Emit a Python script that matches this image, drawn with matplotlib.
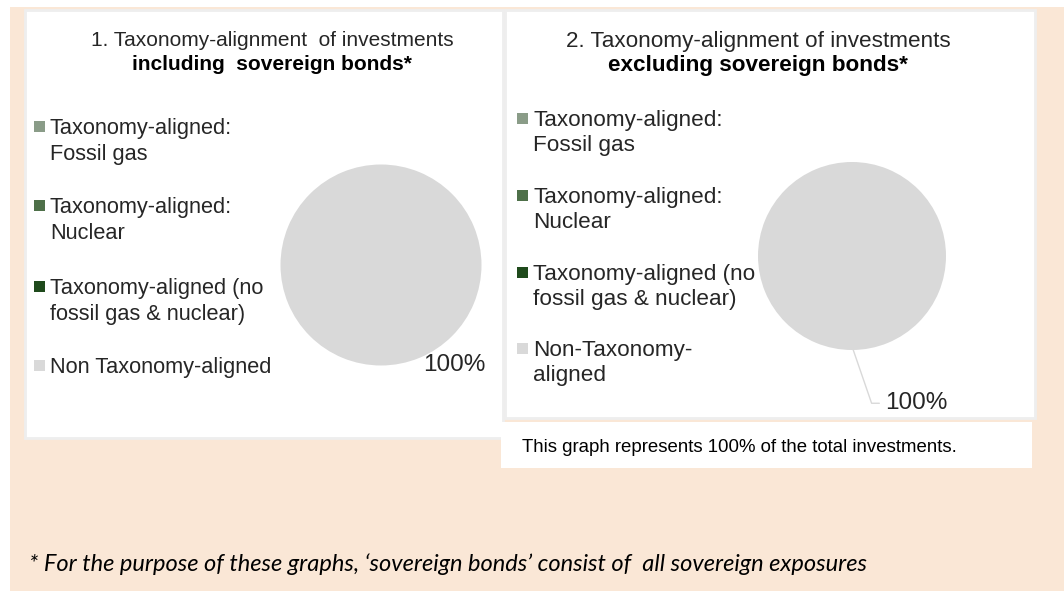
import matplotlib
matplotlib.use("Agg")
import matplotlib.pyplot as plt
from matplotlib.patches import Rectangle

# data
categories_left = ['Taxonomy-aligned:\nFossil gas', 'Taxonomy-aligned:\nNuclear',
                   'Taxonomy-aligned (no\nfossil gas & nuclear)', 'Non Taxonomy-aligned']
categories_right = ['Taxonomy-aligned:\nFossil gas', 'Taxonomy-aligned:\nNuclear',
                    'Taxonomy-aligned (no\nfossil gas & nuclear)', 'Non-Taxonomy-\naligned']
values_incl = [0, 0, 0, 100]
values_excl = [0, 0, 0, 100]
colors = ['#8a9c88', '#4e7049', '#1f4a1c', '#d9d9d9']

title_left = ('1. Taxonomy-alignment  of investments', 'including  sovereign bonds*')
title_right = ('2. Taxonomy-alignment of investments', 'excluding sovereign bonds*')
caption = 'This graph represents 100% of the total investments.'
footnote = '* For the purpose of these graphs, \u2018sovereign bonds\u2019 consist of  all sovereign exposures'

plt.rcParams['font.family'] = ['Liberation Sans', 'DejaVu Sans']

W, H = 1064, 591
fig = plt.figure(figsize=(W / 100, H / 100), dpi=100)
fig.patch.set_facecolor('white')

# background axes in pixel coords
bg = fig.add_axes([0, 0, 1, 1])
bg.set_xlim(0, W)
bg.set_ylim(H, 0)
bg.axis('off')

peach = '#fae7d6'
bg.add_patch(Rectangle((10, 7), W - 10, H - 7, facecolor=peach, edgecolor='none'))
bg.add_patch(Rectangle((25, 10), 478, 428, facecolor='white', edgecolor='#eeeeee', lw=2))
bg.add_patch(Rectangle((505, 10), 530, 408, facecolor='white', edgecolor='#eeeeee', lw=2))
bg.add_patch(Rectangle((501, 422), 531, 46, facecolor='white', edgecolor='none'))

txt = '#262626'

# titles
bg.text(272, 40, title_left[0], ha='center', va='center', fontsize=15, color=txt)
bg.text(272, 65, title_left[1], ha='center', va='center', fontsize=15, color='black', fontweight='bold')
bg.text(758, 41, title_right[0], ha='center', va='center', fontsize=16.2, color=txt)
bg.text(758, 65, title_right[1], ha='center', va='center', fontsize=16.2, color='black', fontweight='bold')


def draw_legend(labels, x_sq, x_txt, ys, fs, step):
    for lab, c, y in zip(labels, colors, ys):
        bg.add_patch(Rectangle((x_sq, y - 5.5), 11, 11, facecolor=c, edgecolor='none'))
        for i, line in enumerate(lab.split('\n')):
            bg.text(x_txt, y + i * step, line, ha='left', va='center_baseline',
                    fontsize=fs, color=txt)


draw_legend(categories_left, 34, 50, [126, 205, 286, 365], 15.7, 26)
draw_legend(categories_right, 517, 533, [118, 195, 272, 348], 16.2, 24.5)


def pie_axes(cx, cy, r):
    return fig.add_axes([(cx - r) / W, 1 - (cy + r) / H, 2 * r / W, 2 * r / H])


# left pie
ax1 = pie_axes(381, 265, 100.5)
ax1.pie(values_incl, colors=colors, startangle=90, counterclock=False,
        wedgeprops=dict(linewidth=0))
ax1.set_xlim(-1, 1)
ax1.set_ylim(-1, 1)
pct1 = values_incl[3] / sum(values_incl) * 100
ax1.text(0.42, -0.975, '%d%%' % pct1, ha='left', va='center_baseline', fontsize=17.5, color=txt)

# right pie
ax2 = pie_axes(852, 256, 94)
ax2.pie(values_excl, colors=colors, startangle=90, counterclock=False,
        wedgeprops=dict(linewidth=0))
ax2.set_xlim(-1, 1)
ax2.set_ylim(-1, 1)
pct2 = values_excl[3] / sum(values_excl) * 100
ax2.annotate('%d%%' % pct2, xy=(0.01, -0.99), xytext=(0.35, -1.54),
             ha='left', va='center_baseline', fontsize=17.5, color=txt, annotation_clip=False,
             arrowprops=dict(arrowstyle='-', color='#d9d9d9', lw=1, shrinkA=2, shrinkB=0,
                             connectionstyle='angle,angleA=0,angleB=109'))

# caption and footnote
bg.text(522, 447, caption, ha='left', va='center', fontsize=13.4, color='black')
bg.text(29, 564, footnote, ha='left', va='center', fontsize=17, color='black',
        family='Lato', style='italic')

plt.savefig('out.png', dpi=100, facecolor='white')
